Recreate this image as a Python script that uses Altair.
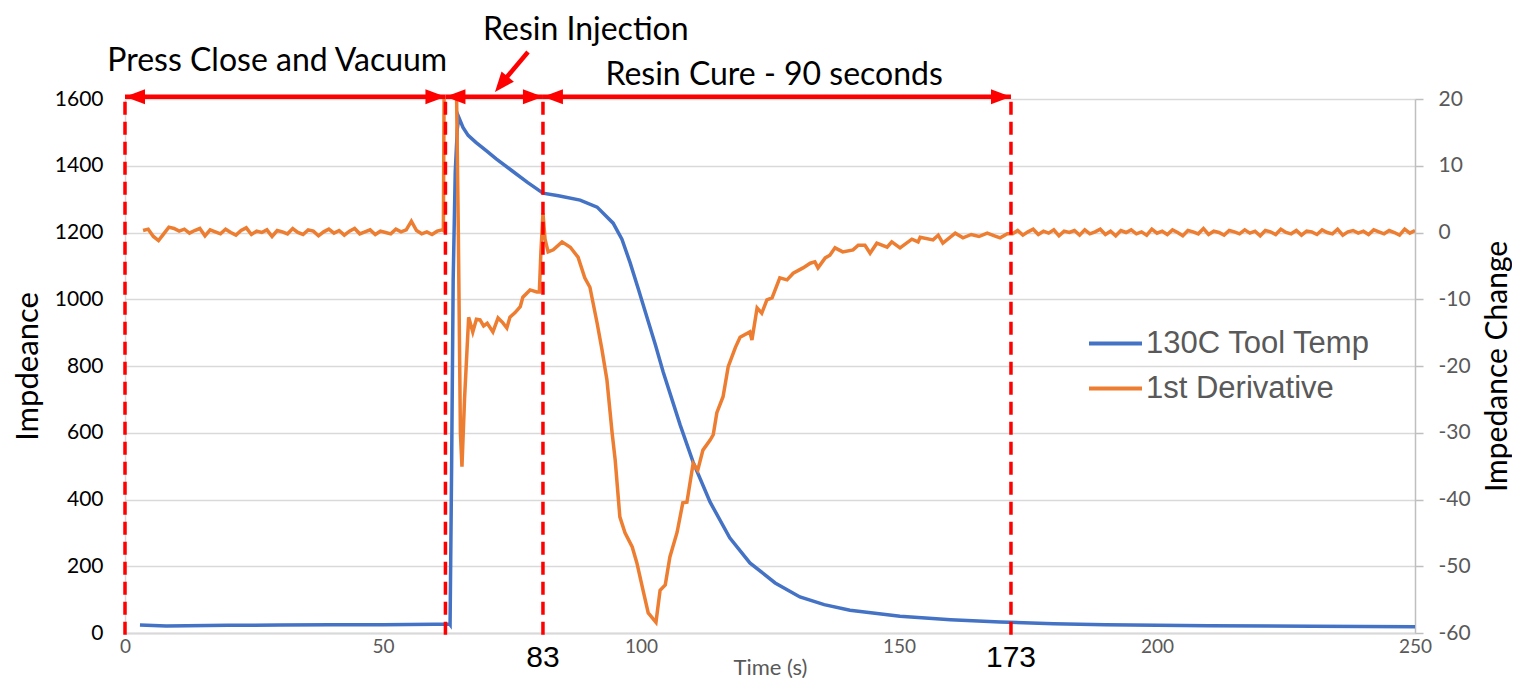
import altair as alt
import pandas as pd

# ---------------- data ----------------
temp_t = [2.9, 8, 12, 20, 30, 40, 50, 60, 62.9, 63.0, 63.3, 63.6, 64.0, 64.4, 64.7,
          65.5, 66.5, 68, 70, 72, 75, 78, 81.0, 84, 88.2, 91.5, 94.6, 96.3, 97.9,
          99.5, 101.2, 102.8, 104.3, 106, 107.6, 110.1, 113.4, 117.2, 121.1, 126.0,
          130.8, 135.5, 140.5, 150.2, 160, 169.6, 180, 190, 210, 230, 250]
temp_v = [24, 21, 22, 23, 24, 25, 25, 26, 27, 25, 500, 1058, 1380, 1510, 1545,
          1515, 1491, 1470, 1445, 1420, 1385, 1350, 1318, 1310, 1297, 1276, 1228, 1180, 1109,
          1030, 944, 863, 782, 700, 623, 512, 392, 285, 210, 150,
          108, 85, 68, 50, 40, 33, 28, 25, 22, 20, 19]

deriv_base1_v = [0.3, 0.5, -0.6, -1.2, -0.2, 0.8, 0.6, 0.2, 0.5, -0.1,
                 0.3, 0.6, -0.5, 0.4, 0.1, -0.2, 0.5, 0.0, -0.4, 0.3,
                 0.7, -0.3, 0.2, 0.0, 0.4, -0.6, 0.3, 0.1, -0.2, 0.6,
                 0.0, -0.3, 0.4, 0.2, -0.5, 0.1, 0.5, -0.1, 0.3, -0.4,
                 0.2, 0.6, -0.2, 0.1, 0.4, -0.3, 0.2, 0.0, -0.2, 0.5,
                 0.1, 0.4, 1.7, 0.3, -0.2, 0.1, -0.3, 0.2, 0.4]
deriv_base1_t = [3.5 + i for i in range(len(deriv_base1_v))]

deriv_mid_t = [61.7, 61.9, 64.1, 64.6, 65.0, 65.3, 65.8, 66.6, 67.4, 68.1, 68.8, 69.5,
               70.2, 71.3, 72.3, 73.2, 74.0, 74.6, 75.6, 76.6, 77.1, 78.5, 79.8, 80.3,
               80.6, 81.0, 81.4, 82.0, 83.0, 84.7, 86.3, 87.8, 89.1, 90.1, 91.5, 92.4,
               93.4, 94.4, 95.0, 95.9, 96.9, 98.3, 99.2, 100.4, 101.4, 102.9, 103.7,
               104.7, 105.6, 107.0, 108.1, 108.9, 110.1, 111.0, 112.0, 113.4, 114.0,
               114.7, 115.9, 116.9, 118.3, 119.2, 121.1, 121.5, 122.5, 123.4, 124.4,
               125.4, 126.9, 128.3, 129.5, 131.4, 132.8, 133.7, 134.3, 135.7, 136.6,
               137.6, 139.1, 141.1, 142.1, 143.4, 144.4, 145.7, 147.7, 148.6, 150.2,
               152.5, 153.7, 154.1, 156.6, 157.6, 158.5, 160.9, 162.4, 164.0, 165.5,
               167.1, 168.5, 169.6, 171.0]
deriv_mid_v = [0.3, 30, 30, 0, -30, -35.1, -25, -12.7, -14.9, -13.0, -13.1, -14.0,
               -13.6, -14.9, -12.8, -13.5, -14.3, -12.7, -12.0, -11.1, -9.7, -8.6, -8.9, -8.9,
               -3.0, 2.9, -1.0, -2.9, -2.6, -1.4, -2.2, -3.7, -6.8, -8.2, -13.6, -17.4,
               -22.1, -30.0, -34.1, -42.6, -45.0, -47.1, -49.5, -53.6, -57.0, -58.4, -53.6,
               -52.8, -48.6, -44.9, -40.5, -40.4, -34.6, -35.6, -32.6, -31.1, -30.3,
               -27.0, -24.6, -20.1, -17.2, -15.7, -14.9, -16.1, -11.3, -12.1, -10.1,
               -9.8, -6.8, -7.1, -6.1, -5.3, -4.6, -4.4, -5.3, -3.8, -3.4,
               -2.3, -2.9, -2.6, -1.9, -1.9, -3.1, -1.6, -2.2, -1.4, -2.3,
               -1.0, -1.4, -0.7, -1.1, -0.4, -1.6, -0.1, -0.8, -0.3, -0.6,
               -0.1, -0.5, -0.8, -0.2]

deriv_base2_v = [-0.2, 0.3, -0.4, 0.1, 0.5, -0.3, 0.2, -0.1, 0.4, -0.5,
                 0.2, 0.0, 0.3, -0.4, 0.4, -0.2, 0.1, 0.5, -0.3, 0.2,
                 -0.5, 0.3, 0.0, 0.4, -0.2, 0.1, -0.4, 0.5, -0.1, 0.2,
                 -0.3, 0.4, 0.0, -0.5, 0.3, 0.1, -0.2, 0.6, -0.3, 0.2,
                 0.0, -0.4, 0.3, 0.1, -0.2, 0.4, -0.1, 0.2, -0.5, 0.3,
                 0.1, -0.3, 0.5, 0.0, -0.2, 0.3, -0.4, 0.2, 0.1, -0.3,
                 0.4, 0.0, -0.2, 0.5, -0.4, 0.1, 0.3, -0.1, 0.2, -0.3,
                 0.4, 0.1, -0.2, 0.3, 0.0, -0.4, 0.5, -0.1, 0.3]
deriv_base2_t = [172 + i for i in range(len(deriv_base2_v))]

series_names = ["130C Tool Temp", "1st Derivative"]
series_colors = ["#4472C4", "#ED7D31"]

left_ticks = [0, 200, 400, 600, 800, 1000, 1200, 1400, 1600]
right_ticks = [-60, -50, -40, -30, -20, -10, 0, 10, 20]
x_ticks = [0, 50, 100, 150, 200, 250]

phase_marks = [0, 62.1, 81.0, 171.7]
phase_names = ["Press Close and Vacuum", "Resin Injection", "Resin Cure - 90 seconds"]
phase_label_t = [29.5, 89.3, 125.8]
mark_labels = ["83", "173"]

# ---------------- tables ----------------
temp_df = pd.DataFrame({"t": temp_t, "v": temp_v, "series": series_names[0]})
deriv_df = pd.DataFrame({
    "t": deriv_base1_t + deriv_mid_t + deriv_base2_t,
    "v": deriv_base1_v + deriv_mid_v + deriv_base2_v,
    "series": series_names[1],
})

# annotation geometry (in left-axis units)
ARROW_LEVEL = 1607
LINE_BOTTOM = -5
rules_df = pd.DataFrame({"t": phase_marks, "y0": LINE_BOTTOM, "y1": ARROW_LEVEL})
arrows_df = pd.DataFrame({"x1": phase_marks[:-1], "x2": phase_marks[1:], "y": ARROW_LEVEL})
heads_left_df = pd.DataFrame({"t": phase_marks[:-1], "y": ARROW_LEVEL})
heads_right_df = pd.DataFrame({"t": phase_marks[1:], "y": ARROW_LEVEL})
titles_df = pd.DataFrame({"t": phase_label_t, "y": [1685, 1777, 1642], "label": phase_names})
marklab_df = pd.DataFrame({"t": phase_marks[2:], "y": [-102, -102], "label": mark_labels})
diag_df = pd.DataFrame({"x1": [78.1], "y1": [1741], "x2": [72.6], "y2": [1640]})
diag_head_df = pd.DataFrame({"t": [71.7], "y": [1621]})

RED = "#FF0000"
X = alt.X("t:Q", scale=alt.Scale(domain=[0, 250], nice=False, zero=False),
          axis=alt.Axis(values=x_ticks, title="Time (s)", grid=False, ticks=False,
                        domainColor="#D9D9D9", domainWidth=2, labelColor="#595959",
                        labelFont="Lato", labelFontSize=19, labelPadding=4,
                        labelFlush=False, labelOverlap=False,
                        titleFont="Lato", titleFontSize=22, titleFontWeight="normal",
                        titleColor="#595959", titleX=645, titleY=34, titleBaseline="middle"))
left_scale = alt.Scale(domain=[0, 1600], nice=False, zero=False)

color = alt.Color("series:N",
                  scale=alt.Scale(domain=series_names, range=series_colors),
                  legend=alt.Legend(orient="none", legendX=962, legendY=216, title=None,
                                    symbolType="stroke", symbolStrokeWidth=4,
                                    symbolSize=2809, labelFont="Liberation Sans",
                                    labelFontSize=31, labelColor="#595959", labelLimit=0,
                                    rowPadding=1, labelOffset=2, padding=0))

blue = alt.Chart(temp_df).mark_line(strokeWidth=3.5).encode(
    x=X,
    y=alt.Y("v:Q", scale=left_scale,
            axis=alt.Axis(values=left_ticks, format="d", title="Impdeance", ticks=False,
                          domainColor="#D9D9D9", domainWidth=1.5,
                          gridColor="#D9D9D9", gridWidth=1.5,
                          labelFont="Lato", labelFontSize=21, labelColor="#000000",
                          labelPadding=22, titleFont="Lato", titleFontSize=31,
                          titleFontWeight="normal", titleColor="#000000",
                          titleAngle=270, titleX=-97, titleY=267,
                          titleAlign="center", titleBaseline="middle")),
    color=color,
)

orange = alt.Chart(deriv_df).mark_line(strokeWidth=3.5, clip=True).encode(
    x="t:Q",
    y=alt.Y("v:Q", scale=alt.Scale(domain=[-60, 20], nice=False, zero=False),
            axis=alt.Axis(orient="right", values=right_ticks, title="Impedance Change",
                          labelExpr="toString(datum.value)",
                          grid=False, ticks=True, tickColor="#BFBFBF", tickSize=8,
                          tickWidth=1.5, domainColor="#BFBFBF", domainWidth=1.5,
                          labelFont="Lato", labelFontSize=21, labelColor="#595959",
                          labelPadding=15, titleFont="Lato", titleFontSize=30,
                          titleFontWeight="normal", titleColor="#000000",
                          titleAngle=270, titleX=82, titleY=267,
                          titleAlign="center", titleBaseline="middle")),
    color=color,
)

def ly(field):
    return alt.Y(field, scale=left_scale, axis=None)

rules = alt.Chart(rules_df).mark_rule(color=RED, strokeWidth=3.5, strokeDash=[13, 7]).encode(
    x="t:Q", y=ly("y0:Q"), y2="y1:Q")
arrows = alt.Chart(arrows_df).mark_rule(color=RED, strokeWidth=4.5).encode(
    x="x1:Q", x2="x2:Q", y=ly("y:Q"))
heads_l = alt.Chart(heads_left_df).mark_point(
    shape="M0,0 L2,-0.75 L2,0.75 Z", filled=True, color=RED, opacity=1, size=400,
    strokeWidth=0).encode(x="t:Q", y=ly("y:Q"))
heads_r = alt.Chart(heads_right_df).mark_point(
    shape="M0,0 L-2,-0.75 L-2,0.75 Z", filled=True, color=RED, opacity=1, size=400,
    strokeWidth=0).encode(x="t:Q", y=ly("y:Q"))
diag = alt.Chart(diag_df).mark_rule(color=RED, strokeWidth=4.5).encode(
    x="x1:Q", x2="x2:Q", y=ly("y1:Q"), y2="y2:Q")
diag_head = alt.Chart(diag_head_df).mark_point(
    shape="M0,0 L0.8,2 L-0.8,2 Z", filled=True, color=RED, opacity=1, size=400,
    strokeWidth=0, angle=219.5).encode(x="t:Q", y=ly("y:Q"))
titles = alt.Chart(titles_df).mark_text(
    font="Lato", fontSize=32, color="#000000", baseline="alphabetic", align="center").encode(
    x="t:Q", y=ly("y:Q"), text="label:N")
marklabs = alt.Chart(marklab_df).mark_text(
    font="Liberation Sans", fontSize=30, color="#000000", baseline="alphabetic",
    align="center").encode(x="t:Q", y=ly("y:Q"), text="label:N")

chart = alt.layer(
    blue, orange, rules, arrows, heads_l, heads_r, diag, diag_head, titles, marklabs
).resolve_scale(y="independent").properties(
    width=1290, height=534,
    autosize=alt.AutoSizeParams(type="none"),
    padding={"left": 117, "top": 91, "right": 97, "bottom": 45},
).configure_view(stroke=None)

chart.save("out.html", embed_options={"renderer": "svg", "actions": False})
